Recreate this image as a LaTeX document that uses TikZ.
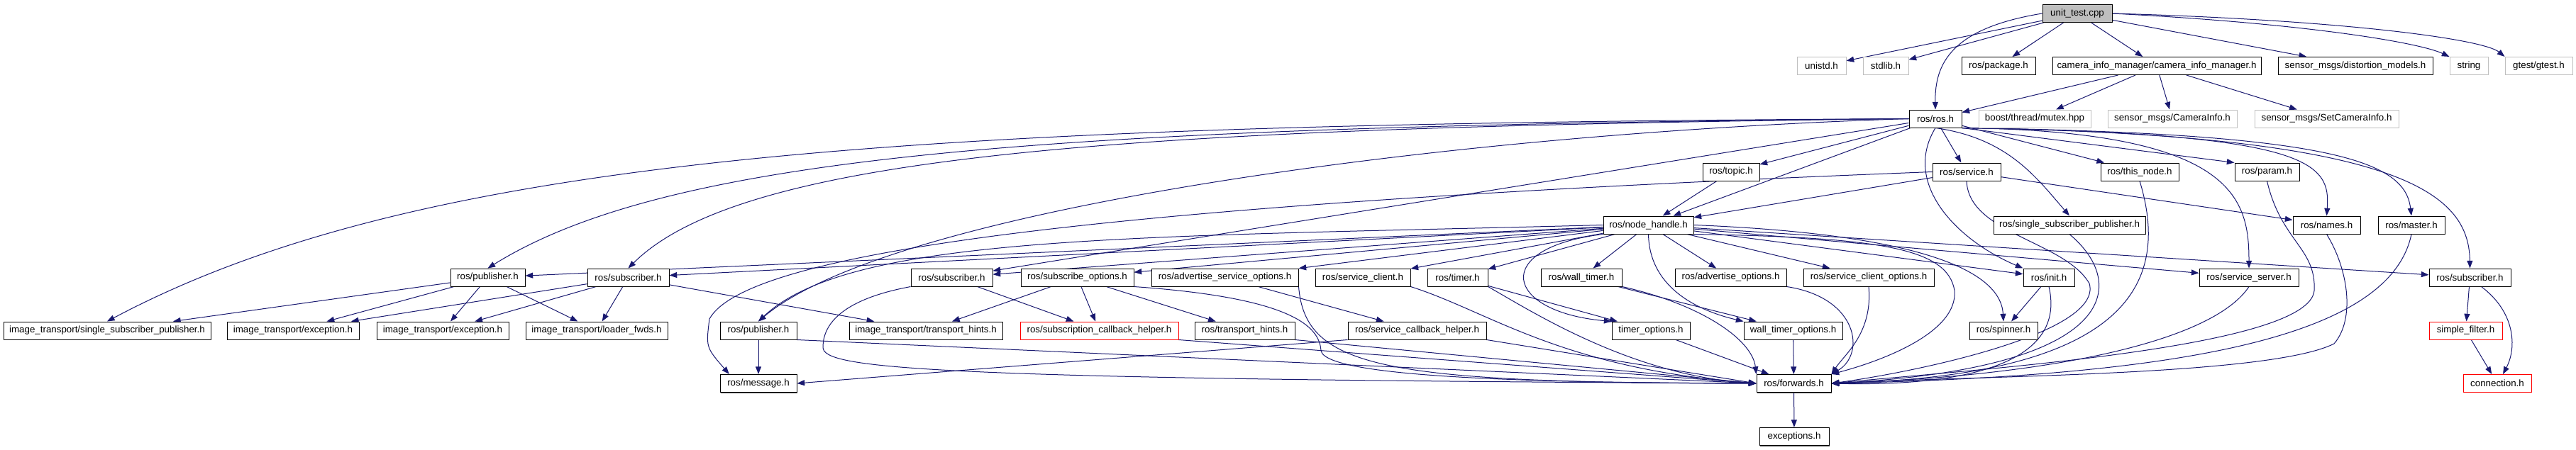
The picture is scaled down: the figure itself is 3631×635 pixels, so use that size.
\documentclass[tikz,border=0pt]{standalone}
\usepackage{fontspec}
\setmainfont{Liberation Sans}
\usetikzlibrary{arrows.meta,shadows,backgrounds}
\definecolor{edgeblue}{HTML}{191970}
\definecolor{missgray}{HTML}{BFBFBF}
\definecolor{truncred}{HTML}{FF0000}

\begin{document}
\begin{tikzpicture}[x=0.75pt, y=-0.75pt,
  box/.style={fill=white, line width=0.75pt, minimum height=18.75pt, inner sep=0pt,
    font=\fontsize{10}{12}\selectfont},
  hdr/.style={box, draw=black,
    general shadow={fill=black!70, shadow xshift=0.75pt, shadow yshift=-0.75pt}},
  mainfile/.style={hdr, fill=missgray},
  nofile/.style={box, draw=missgray},
  trunc/.style={box, draw=truncred},
  wd/.style={minimum width=#1*0.75pt},
  inc/.style={draw=edgeblue, line width=0.75pt, -{Triangle[length=8pt,width=6pt]}},
]
\useasboundingbox (0,0) rectangle (3631,635);

\node[mainfile, wd=98] (ut) at (2928,19) {unit\_test.cpp};

\node[nofile, wd=69] (unistd) at (2567.5,93) {unistd.h};
\node[nofile, wd=64] (stdlib) at (2658,93) {stdlib.h};
\node[hdr, wd=104] (package) at (2817,93) {ros/package.h};
\node[hdr, wd=294] (cim) at (3040,93) {camera\_info\_manager/camera\_info\_manager.h};
\node[hdr, wd=218] (distm) at (3320,93) {sensor\_msgs/distortion\_models.h};
\node[nofile, wd=54] (string) at (3480,93) {string};
\node[nofile, wd=95] (gtest) at (3578.5,93) {gtest/gtest.h};

\node[hdr, wd=74] (ros) at (2728,167.5) {ros/ros.h};
\node[nofile, wd=158] (mutex) at (2868,167.5) {boost/thread/mutex.hpp};
\node[nofile, wd=182] (caminfo) at (3062,167.5) {sensor\_msgs/CameraInfo.h};
\node[nofile, wd=203] (setcaminfo) at (3279.5,167.5) {sensor\_msgs/SetCameraInfo.h};

\node[hdr, wd=80] (topic) at (2440,242.5) {ros/topic.h};
\node[hdr, wd=96] (service) at (2772,242.5) {ros/service.h};
\node[hdr, wd=110] (thisnode) at (3016,242.5) {ros/this\_node.h};
\node[hdr, wd=91] (param) at (3195.5,242.5) {ros/param.h};

\node[hdr, wd=127] (nh) at (2323.5,317.5) {ros/node\_handle.h};
\node[hdr, wd=214] (rssp) at (2917,317.5) {ros/single\_subscriber\_publisher.h};
\node[hdr, wd=95] (names) at (3279.5,317.5) {ros/names.h};
\node[hdr, wd=94] (master) at (3399,317.5) {ros/master.h};

\node[hdr, wd=105] (pubA) at (687.5,391.5) {ros/publisher.h};
\node[hdr, wd=115] (subA) at (885.5,391.5) {ros/subscriber.h};
\node[hdr, wd=115] (subB) at (1341.5,391.5) {ros/subscriber.h};
\node[hdr, wd=159] (subopt) at (1518.5,391.5) {ros/subscribe\_options.h};
\node[hdr, wd=207] (advsrvopt) at (1726.5,391.5) {ros/advertise\_service\_options.h};
\node[hdr, wd=134] (srvclient) at (1921,391.5) {ros/service\_client.h};
\node[hdr, wd=85] (timer) at (2054.5,391.5) {ros/timer.h};
\node[hdr, wd=114] (walltimer) at (2229,391.5) {ros/wall\_timer.h};
\node[hdr, wd=157] (advopt) at (2439.5,391.5) {ros/advertise\_options.h};
\node[hdr, wd=184] (srvclientopt) at (2634,391.5) {ros/service\_client\_options.h};
\node[hdr, wd=72] (init) at (2888,391.5) {ros/init.h};
\node[hdr, wd=140] (srvserver) at (3170,391.5) {ros/service\_server.h};
\node[hdr, wd=115] (subC) at (3481.5,391.5) {ros/subscriber.h};

\node[hdr, wd=292] (itssp) at (151,466.5) {image\_transport/single\_subscriber\_publisher.h};
\node[hdr, wd=186] (itexA) at (413,466.5) {image\_transport/exception.h};
\node[hdr, wd=186] (itexB) at (624,466.5) {image\_transport/exception.h};
\node[hdr, wd=200] (itloader) at (841,466.5) {image\_transport/loader\_fwds.h};
\node[hdr, wd=108] (pubB) at (1069,466.5) {ros/publisher.h};
\node[hdr, wd=216] (ithints) at (1305,466.5) {image\_transport/transport\_hints.h};
\node[trunc, wd=223] (subcb) at (1549.5,466.5) {ros/subscription\_callback\_helper.h};
\node[hdr, wd=141] (hints) at (1754.5,466.5) {ros/transport\_hints.h};
\node[hdr, wd=195] (srvcb) at (1997.5,466.5) {ros/service\_callback\_helper.h};
\node[hdr, wd=110] (timeropt) at (2327,466.5) {timer\_options.h};
\node[hdr, wd=139] (walltimeropt) at (2527.5,466.5) {wall\_timer\_options.h};
\node[hdr, wd=96] (spinner) at (2824,466.5) {ros/spinner.h};
\node[trunc, wd=103] (simplefilter) at (3475.5,466.5) {simple\_filter.h};

\node[hdr, wd=108] (message) at (1069,541) {ros/message.h};
\node[hdr, wd=105] (fwd) at (2528.5,541) {ros/forwards.h};
\node[trunc, wd=96] (conn) at (3520,541) {connection.h};

\node[hdr, wd=98] (exc) at (2529,616) {exceptions.h};

\begin{scope}[on background layer]
% unit_test.cpp
\draw[inc] (ut) -- (unistd);
\draw[inc] (ut) -- (stdlib);
\draw[inc] (ut) -- (package);
\draw[inc] (ut) -- (cim);
\draw[inc] (ut) -- (distm);
\draw[inc] (ut.east) .. controls (3250,33) and (3410,60) .. (string.north west);
\draw[inc] (ut.east) .. controls (3300,28) and (3500,55) .. (gtest.north west);
\draw[inc] (ut.west) .. controls (2750,40) and (2727,90) .. (ros.north);
\draw[inc] (cim) -- (ros);
\draw[inc] (cim) -- (mutex);
\draw[inc] (cim) -- (caminfo);
\draw[inc] (cim) -- (setcaminfo);
% ros/ros.h
\draw[inc] (ros) -- (topic);
\draw[inc] (ros) -- (service);
\draw[inc] (ros) -- (nh);
\draw[inc] (ros) -- (thisnode);
\draw[inc] (ros.south east) -- (param.north west);
\draw[inc] (ros.south) .. controls (2830,195) and (2870,250) .. (rssp.north);
\draw[inc] (ros.south) .. controls (2680,260) and (2760,340) .. (init.north west);
\draw[inc] (ros.south east) .. controls (3150,185) and (3170,280) .. (srvserver.north);
\draw[inc] (ros.south east) .. controls (3260,188) and (3285,230) .. (names.north);
\draw[inc] (ros.south east) .. controls (3300,188) and (3390,230) .. (master.north);
\draw[inc] (ros.south east) .. controls (3380,190) and (3480,270) .. (subC.north);
\draw[inc] (ros) -- (subB);
\draw[inc] (ros.west) .. controls (2000,190) and (1250,300) .. (pubB.north);
\draw[inc] (ros.west) .. controls (1600,180) and (1050,215) .. (subA.north);
\draw[inc] (ros.west) .. controls (1500,178) and (950,215) .. (pubA.north);
\draw[inc] (ros.west) .. controls (1300,175) and (600,215) .. (itssp.north);
% second level
\draw[inc] (topic) -- (nh);
\draw[inc] (service) -- (nh);
\draw[inc] (service) -- (names);
\draw[inc] (service.west) .. controls (1500,290) and (1050,360) .. (1000,450)
  .. controls (995,490) .. ([xshift=10pt]message.north west);
\draw[inc] (service.south) .. controls (2775,330) and (2910,340) .. (2945,400)
  .. controls (2965,470) and (2700,525) .. (fwd.east);
\draw[inc] (thisnode.south) .. controls (3060,400) and (3000,530) .. (fwd.east);
\draw[inc] (param.south) .. controls (3215,340) and (3265,350) .. (3262,410)
  .. controls (3255,490) and (2800,520) .. (fwd.east);
\draw[inc] (names.south) .. controls (3310,380) and (3320,450) .. (3290,485)
  .. controls (3200,530) and (2800,530) .. (fwd.east);
\draw[inc] (master.south) .. controls (3370,470) and (3100,530) .. (fwd.east);
\draw[inc] (rssp.south) .. controls (3000,400) and (2990,520) .. (fwd.east);
% ros/node_handle.h
\draw[inc] (nh) -- (pubA);
\draw[inc] (nh) -- (subA);
\draw[inc] (nh.west) .. controls (1600,335) and (1200,330) .. (pubB.north);
\draw[inc] (nh) -- (subB);
\draw[inc] (nh) -- (subopt);
\draw[inc] (nh) -- (advsrvopt);
\draw[inc] (nh) -- (srvclient);
\draw[inc] (nh) -- (timer);
\draw[inc] (nh) -- (walltimer);
\draw[inc] (nh) -- (advopt);
\draw[inc] (nh) -- (srvclientopt);
\draw[inc] (nh) -- (init);
\draw[inc] (nh) -- (srvserver);
\draw[inc] (nh) -- (subC);
\draw[inc] (nh.south west) .. controls (2100,350) and (2120,440) .. (timeropt.north west);
\draw[inc] (nh.south) .. controls (2325,410) and (2400,440) .. (walltimeropt.north west);
\draw[inc] (nh.east) .. controls (2700,330) and (2820,380) .. (spinner.north);
\draw[inc] (nh.south east) .. controls (2650,335) and (2745,350) .. (2755,410)
  .. controls (2760,470) and (2650,510) .. (fwd.north east);
% third level
\draw[inc] (pubA) -- (itssp);
\draw[inc] (pubA) -- (itexA);
\draw[inc] (pubA) -- (itexB);
\draw[inc] (pubA) -- (itloader);
\draw[inc] (subA) -- (itexA);
\draw[inc] (subA) -- (itexB);
\draw[inc] (subA) -- (itloader);
\draw[inc] (subA) -- (ithints);
\draw[inc] (subB) -- (subcb);
\draw[inc] (subB.south west) .. controls (1200,420) and (1160,450) .. (1160,490)
  .. controls (1160,520) and (1300,535) .. (fwd.west);
\draw[inc] (subopt) -- (ithints);
\draw[inc] (subopt) -- (subcb);
\draw[inc] (subopt) -- (hints);
\draw[inc] (subopt.south east) .. controls (1820,420) and (1860,460) .. (1862,495)
  .. controls (1870,535) and (2200,540) .. (fwd.west);
\draw[inc] (advsrvopt) -- (srvcb);
\draw[inc] (advsrvopt.south east) .. controls (1840,520) and (1950,540) .. (fwd.west);
\draw[inc] (srvclient.south east) .. controls (2100,440) and (2200,520) .. (fwd.west);
\draw[inc] (timer) -- (timeropt);
\draw[inc] (timer.south east) .. controls (2160,440) and (2300,530) .. (fwd.west);
\draw[inc] (walltimer) -- (walltimeropt);
\draw[inc] (walltimer.south east) .. controls (2400,430) and (2470,480) .. (fwd.north west);
\draw[inc] (advopt.south east) .. controls (2620,420) and (2630,500) .. (fwd.north east);
\draw[inc] (srvclientopt.south) .. controls (2640,470) and (2600,500) .. (fwd.north east);
\draw[inc] (init) -- (spinner);
\draw[inc] (init.south) .. controls (2915,520) and (2750,545) .. (fwd.east);
\draw[inc] (srvserver.south) .. controls (3120,480) and (2900,530) .. (fwd.east);
\draw[inc] (subC) -- (simplefilter);
\draw[inc] ([xshift=12pt]subC.south) .. controls (3545,440) and (3548,490) .. ([xshift=6pt]conn.north);
\draw[inc] (simplefilter) -- (conn);
% fourth level
\draw[inc] (pubB) -- (message);
\draw[inc] (pubB.south east) -- (fwd.west);
\draw[inc] (subcb.south east) -- (fwd.west);
\draw[inc] (hints.south east) -- (fwd.west);
\draw[inc] (srvcb.south west) -- (message.east);
\draw[inc] (srvcb.south east) -- (fwd.west);
\draw[inc] (timeropt) -- (fwd);
\draw[inc] (walltimeropt) -- (fwd);
\draw[inc] (fwd) -- (exc);
\end{scope}
\end{tikzpicture}
\end{document}
